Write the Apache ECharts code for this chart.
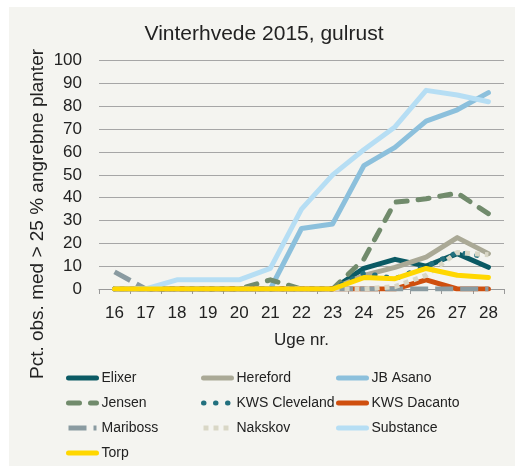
<!DOCTYPE html>
<html>
<head>
<meta charset="utf-8">
<script src="https://cdn.jsdelivr.net/npm/echarts@6.0.0/dist/echarts.min.js"></script>
<style>
  html, body { margin: 0; padding: 0; background: #fff; }
  #panel { position: absolute; left: 9px; top: 7px; width: 506px; height: 459px; background: #f4f4f0; }
  #chart { position: absolute; left: 0; top: 0; width: 519px; height: 466px; }
</style>
</head>
<body>
<div id="panel"></div>
<div id="chart"></div>
<script>
// Uge 16..28
const weeks = ["16", "17", "18", "19", "20", "21", "22", "23", "24", "25", "26", "27", "28"];

const elixer      = [0, 0, 0, 0, 0, 0, 0, 0, 9, 13, 10, 15.5, 9.5];
const hereford    = [0, 0, 0, 0, 0, 0, 0, 0, 6, 9.5, 14, 22.5, 15.5];
const jbAsano     = [0, 0, 0, 0, 0, 0, 26.5, 28.5, 54, 62, 73.5, 78.5, 86];
const jensen      = [0, 0, 0, 0, 0, 4, 0, 0, 13, 38, 39.5, 42, 33];
const kwsCleve    = [0, 0, 0, 0, 0, 0, 0, 0, 7, 4.5, 10, 16, 14];
const kwsDacanto  = [0, 0, 0, 0, 0, 0, 0, 0, 0, 0, 4, 0, 0];
const mariboss    = [7.5, 0, 0, 0, 0, 0, 0, 0, 0, 0, 0, 0, 0];
const nakskov     = [0, 0, 0, 0, 0, 0, 0, 0, 0, 1, 6, 16, 15];
const substance   = [0, 0, 4, 4, 4, 9, 35, 50, 61, 71, 87, 85, 82];
const torp        = [0, 0, 0, 0, 0, 0, 0, 0, 5, 4.5, 9, 6, 5];

const yTicks = [0, 10, 20, 30, 40, 50, 60, 70, 80, 90, 100];

const font = "'Liberation Sans', Arial, sans-serif";

function line(name, data, color, type, cap) {
  return {
    name, data, type: "line", symbol: "none", smooth: false,
    lineStyle: { color, width: 5, type: type || "solid", cap: cap || "round", join: "round" },
    itemStyle: { color },
    emphasis: { disabled: true }
  };
}

function legendCol(left, names) {
  return {
    orient: "vertical", left, top: 371, padding: 0, data: names,
    itemWidth: 28, itemHeight: 14, itemGap: 11,
    itemStyle: { opacity: 0 },
    lineStyle: { width: 5 },
    textStyle: { fontFamily: font, fontSize: 14, color: "#222" },
    selectedMode: false
  };
}

const chart = echarts.init(document.getElementById("chart"), null, { renderer: "canvas" });
chart.setOption({
  backgroundColor: "transparent",
  animation: false,
  title: {
    text: "Vinterhvede 2015, gulrust", left: 259, top: 19, textAlign: "center",
    textStyle: { fontFamily: font, fontSize: 21, fontWeight: "normal", color: "#222" }
  },
  graphic: [{
    type: "text", x: 38, y: 214, rotation: Math.PI / 2,
    style: {
      text: "Pct. obs. med > 25 % angrebne planter", fontFamily: font, fontSize: 19,
      fill: "#222", align: "center", verticalAlign: "middle"
    }
  }],
  grid: { left: 99, right: 15, top: 60.7, bottom: 177 },
  xAxis: {
    type: "category", data: weeks, boundaryGap: true,
    name: "Uge nr.", nameLocation: "middle", nameGap: 43,
    nameTextStyle: { fontFamily: font, fontSize: 17, color: "#222" },
    axisLine: { lineStyle: { color: "#999", width: 1 } },
    axisTick: { show: true, length: 5, lineStyle: { color: "#999" } },
    axisLabel: { fontFamily: font, fontSize: 17, color: "#222", margin: 16 }
  },
  yAxis: {
    type: "value", min: yTicks[0], max: yTicks[yTicks.length - 1], interval: 10,
    axisLine: { show: false }, axisTick: { show: false },
    axisLabel: { fontFamily: font, fontSize: 17, color: "#222", margin: 17 },
    splitLine: { lineStyle: { color: "#a6a6a6", width: 1 } }
  },
  legend: [
    legendCol(66, ["Elixer", "Jensen", "Mariboss", "Torp"]),
    legendCol(201, ["Hereford", "KWS Cleveland", "Nakskov"]),
    legendCol(336, ["JB Asano", "KWS Dacanto", "Substance"])
  ],
  series: [
    line("Elixer", elixer, "#0b5a64"),
    line("Hereford", hereford, "#aaa996"),
    line("JB Asano", jbAsano, "#8cc0dc"),
    line("Jensen", jensen, "#718b6c", [11, 11], "round"),
    line("KWS Cleveland", kwsCleve, "#22707e", [0.5, 11.5], "round"),
    line("KWS Dacanto", kwsDacanto, "#cf4f0e"),
    line("Mariboss", mariboss, "#8a9ba1", [18, 7], "butt"),
    line("Nakskov", nakskov, "#d9d7c6", [5, 5], "butt"),
    line("Substance", substance, "#b6def4"),
    line("Torp", torp, "#ffd700")
  ]
});
</script>
</body>
</html>
